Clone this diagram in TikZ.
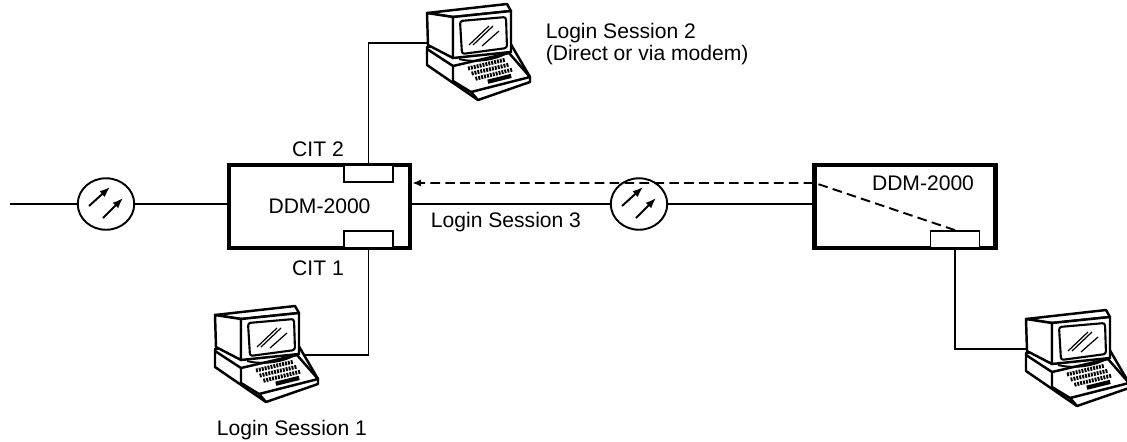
\documentclass[tikz,border=0pt]{standalone}
\usepackage{fontspec}
\setmainfont{Liberation Sans}
\usetikzlibrary{arrows.meta,shapes.geometric}

\tikzset{
  terminal/.pic={
    \begin{scope}[line width=1.4pt, line join=round]
    % base and keyboard
    \draw[fill=white] (2,46) -- (84,40) -- (105,76) -- (105,81) -- (53,99) -- (2,64) -- cycle;
    \draw (2,48) -- (28,65) -- (28,80) -- (46,91);
    \draw (28,65) -- (84,52) -- (105,76) -- (46,91) -- (53,99);
    \foreach \xa/\ya/\xb/\yb in {43/67.5/79.7/58.8, 46.6/72.6/83.8/63.7, 50.4/77.8/87.9/68.5}
      \draw[line width=2.2pt, dash pattern=on 1.1pt off 0.6pt] (\xa,\ya) -- (\xb,\yb);
    \draw[line width=2.4pt] (62.8,80.7) -- (86.2,74.9);
    % monitor
    \draw[fill=white] (2,12) -- (82,3) -- (86,10) -- (28,16) -- cycle;
    \draw[fill=white] (2,12) -- (28,16) -- (28,57) -- (3,44) -- cycle;
    \draw[fill=white] (28,16) -- (86,10) -- (86,51) -- (28,57) -- cycle;
    \draw[line width=1.2pt, rounded corners=1.5pt] (35,20) -- (81,16) -- (82,47) -- (37,53) -- cycle;
    \draw[line width=1.1pt] (34,58) .. controls (50,62) and (70,59) .. (82,52);
    \draw[line width=0.7pt] (44,44) -- (64,25) (48,44) -- (68,25) (57,45) -- (74,30);
    \end{scope}
    \coordinate (-west) at (2,42);
    \coordinate (-east) at (92,52);
  }
}

\begin{document}
\begin{tikzpicture}[x=0.02cm, y=-0.02cm, line width=1.1pt,
    font=\fontsize{12}{12.5}\selectfont,
    ddm/.style={draw, line width=2.4pt, minimum width=3.62cm, minimum height=1.66cm},
    port/.style={draw, fill=white, line width=1pt, minimum width=0.98cm, minimum height=0.34cm, inner sep=0pt},
    regen/.style={ellipse, draw, fill=white, minimum width=1.13cm, minimum height=1.03cm, inner sep=0pt,
      path picture={
        \draw[-{Latex[length=6pt,width=4.5pt]}] ([shift={(-17,2)}]path picture bounding box.center) -- ([shift={(4,-17)}]path picture bounding box.center);
        \draw[-{Latex[length=6pt,width=4.5pt]}] ([shift={(-3,14)}]path picture bounding box.center) -- ([shift={(17,-6)}]path picture bounding box.center);
      }},
    lead/.style={dash pattern=on 5.5pt off 3pt}]
  \useasboundingbox (0,0) rectangle (1127,441);

  \node[ddm] (ddmA) at (319.5,206.5) {DDM-2000};
  \node[ddm] (ddmB) at (905,206.5) {};
  \node (labB) at (923,183) {DDM-2000};
  \node[port] (citB) at (368.5,173.5) {};
  \node[port] (citA) at (368.5,239.5) {};
  \node[port] (citC) at (955,239.5) {};
  \node[regen] (regA) at (106,204) {};
  \node[regen] (regB) at (639,204) {};
  \coordinate (feed) at (10,204);
  \coordinate (dashIn) at (815,183);

  \pic (termB) at (425,1) {terminal};
  \pic (termA) at (213,303) {terminal};
  \pic (termC) at (1024,307) {terminal};

  \draw (feed) -- (regA) -- (regA -| ddmA.west);
  \draw (ddmA.east |- regB) -- (regB) -- (ddmB.west |- regB);
  \draw[lead, -{Latex[length=5pt,width=4pt]}] (citC.north) -- (dashIn) -- (dashIn -| ddmA.east);
  \draw (citB.north) -- (citB.north |- termB-west) -- (termB-west);
  \draw (citA.south) -- (citA.south |- termA-east) -- (termA-east);
  \draw (citC.south) -- (citC.south |- termC-west) -- (termC-west);

  \node (citBlab) at (318,149) {CIT 2};
  \node (citAlab) at (318,268) {CIT 1};
  \node (sess3) at (506,222) {Login Session 3};
  \node[align=left, anchor=west] (sess2) at (539,44) {Login Session 2\\(Direct or via modem)};
  \node (sess1) at (292,430) {Login Session 1};
\end{tikzpicture}
\end{document}
